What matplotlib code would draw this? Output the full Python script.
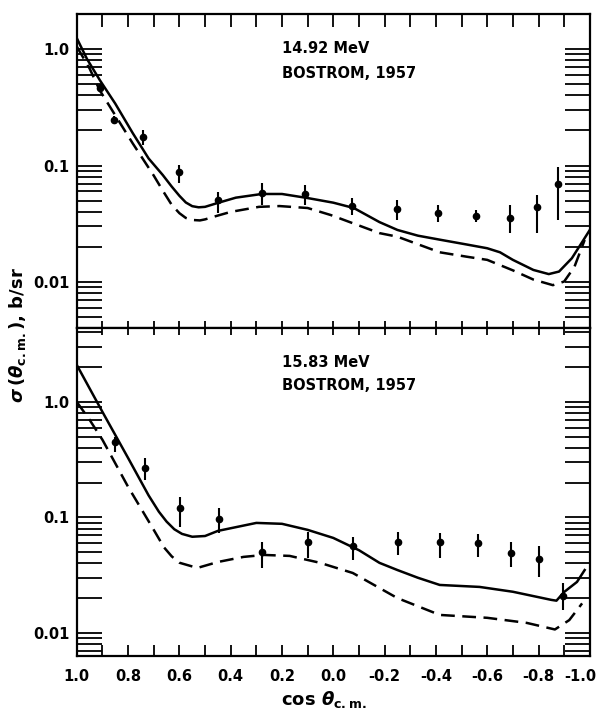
import matplotlib
matplotlib.use("Agg")
import matplotlib.pyplot as plt
import matplotlib.transforms as mtransforms
import numpy as np
from matplotlib.ticker import FixedLocator, LogLocator, NullFormatter, FuncFormatter

# ---- data ----
# 14.92 MeV panel
top_pts_x = [0.91, 0.855, 0.743, 0.60, 0.45, 0.279, 0.111, -0.072, -0.248, -0.407, -0.556, -0.688, -0.793, -0.875]
top_pts_y = [0.463, 0.246, 0.176, 0.088, 0.0506, 0.058, 0.0569, 0.0449, 0.0423, 0.0391, 0.0369, 0.0354, 0.0440, 0.0694]
top_pts_lo = [0.428, 0.227, 0.150, 0.071, 0.0391, 0.0458, 0.0458, 0.0376, 0.0340, 0.0327, 0.0327, 0.0263, 0.0263, 0.0340]
top_pts_hi = [0.501, 0.266, 0.202, 0.101, 0.0592, 0.0708, 0.068, 0.0526, 0.0506, 0.0458, 0.0415, 0.0458, 0.0558, 0.0971]

top_solid_x = [1.0, 0.96, 0.91, 0.85, 0.782, 0.72, 0.665, 0.63, 0.60, 0.575, 0.55, 0.525, 0.50, 0.454, 0.38, 0.279,
               0.20, 0.10, 0.0, -0.08, -0.18, -0.25, -0.33, -0.42, -0.52, -0.60, -0.65, -0.70, -0.78, -0.84,
               -0.88, -0.93, -0.97, -1.0]
top_solid_y = [1.24, 0.82, 0.54, 0.34, 0.19, 0.115, 0.083, 0.066, 0.055, 0.0482, 0.0448, 0.0438, 0.0442, 0.0475, 0.053,
               0.057, 0.057, 0.0526, 0.048, 0.0432, 0.0327, 0.028, 0.025, 0.023, 0.021, 0.0195, 0.018, 0.0155, 0.0127,
               0.0117, 0.0123, 0.016, 0.022, 0.028]
top_dash_x = [1.0, 0.95, 0.91, 0.85, 0.782, 0.70, 0.665, 0.63, 0.60, 0.575, 0.55, 0.52, 0.50, 0.454, 0.40, 0.29,
              0.21, 0.10, 0.01, -0.18, -0.25, -0.415, -0.52, -0.60, -0.70, -0.78, -0.856, -0.90, -0.94, -0.98]
top_dash_y = [1.05, 0.68, 0.44, 0.27, 0.155, 0.082, 0.061, 0.046, 0.039, 0.0355, 0.0341, 0.0338, 0.0345, 0.037, 0.040,
              0.0442, 0.0449, 0.0432, 0.0376, 0.0263, 0.0245, 0.018, 0.0165, 0.0155, 0.0126, 0.0105, 0.0094, 0.0101,
              0.0135, 0.023]

# 15.83 MeV panel
bot_pts_x = [0.852, 0.735, 0.598, 0.446, 0.279, 0.10, -0.076, -0.251, -0.415, -0.563, -0.692, -0.80, -0.895]
bot_pts_y = [0.45, 0.268, 0.121, 0.097, 0.050, 0.061, 0.056, 0.061, 0.061, 0.060, 0.049, 0.044, 0.021]
bot_pts_lo = [0.369, 0.211, 0.0827, 0.0734, 0.0365, 0.0446, 0.0429, 0.0473, 0.0446, 0.0455, 0.0373, 0.0305, 0.0158]
bot_pts_hi = [0.498, 0.327, 0.150, 0.121, 0.0614, 0.0749, 0.0678, 0.0749, 0.0735, 0.0720, 0.0614, 0.0567, 0.0271]

bot_solid_x = [1.0, 0.9, 0.8, 0.72, 0.68, 0.65, 0.62, 0.59, 0.55, 0.50, 0.45, 0.3, 0.2, 0.1, 0.0, -0.1, -0.18,
               -0.25, -0.33, -0.415, -0.57, -0.70, -0.85, -0.87, -0.90, -0.95, -0.98]
bot_solid_y = [2.09, 0.82, 0.327, 0.155, 0.112, 0.092, 0.079, 0.072, 0.068, 0.069, 0.0764, 0.0896, 0.088, 0.078, 0.0664,
               0.052, 0.0404, 0.035, 0.030, 0.026, 0.025, 0.0227, 0.0193, 0.019, 0.0226, 0.0276, 0.035]
bot_dash_x = [1.0, 0.95, 0.9, 0.8, 0.74, 0.7, 0.66, 0.63, 0.6, 0.53, 0.45, 0.35, 0.27, 0.17, 0.053, -0.076,
              -0.25, -0.415, -0.6, -0.754, -0.864, -0.92, -0.97]
bot_dash_y = [1.0, 0.70, 0.47, 0.184, 0.11, 0.078, 0.055, 0.046, 0.0405, 0.0365, 0.0411, 0.0455, 0.0473, 0.0464,
              0.0405, 0.033, 0.020, 0.0143, 0.0135, 0.0122, 0.0107, 0.0129, 0.018]

x_ticks = [round(1.0 - 0.1 * i, 1) for i in range(21)]
x_ticklabels = ["1.0", "", "0.8", "", "0.6", "", "0.4", "", "0.2", "", "0.0", "",
                "-0.2", "", "-0.4", "", "-0.6", "", "-0.8", "", "-1.0"]
y_labels = {1.0: "1.0", 0.1: "0.1", 0.01: "0.01"}

plt.rcParams['font.family'] = ['DejaVu Sans']
plt.rcParams['font.weight'] = 'bold'
plt.rcParams['mathtext.fontset'] = 'custom'
plt.rcParams['mathtext.it'] = 'DejaVu Sans:italic:bold'
plt.rcParams['mathtext.rm'] = 'DejaVu Sans:bold'
plt.rcParams['mathtext.bf'] = 'DejaVu Sans:bold'


def setup(ax, ylim, bottom_labels):
    ax.set_yscale('log')
    ax.set_xlim(1.0, -1.0)
    ax.set_ylim(*ylim)
    for s in ax.spines.values():
        s.set_linewidth(1.6)
    ax.yaxis.set_major_locator(LogLocator(base=10))
    ax.yaxis.set_minor_locator(LogLocator(base=10, subs=np.arange(2, 10)))
    ax.yaxis.set_minor_formatter(NullFormatter())
    ax.yaxis.set_major_formatter(FuncFormatter(lambda v, p: y_labels.get(round(v, 3), "")))
    ax.tick_params(axis='y', which='both', direction='in', length=18, width=1.3,
                   left=True, right=True, labelsize=10.5, pad=5)
    ax.xaxis.set_major_locator(FixedLocator(x_ticks))
    ax.tick_params(axis='x', which='major', direction='in', length=5, width=1.3,
                   top=True, bottom=True, labelsize=10.5, pad=9)
    if bottom_labels:
        ax.set_xticklabels(x_ticklabels)
    else:
        ax.set_xticklabels([])
    for lab in ax.get_yticklabels() + ax.get_xticklabels():
        lab.set_fontweight('bold')


def draw(ax, sx, sy, dx, dy, px, py, plo, phi):
    ax.plot(sx, sy, color='k', lw=1.8)
    ax.plot(dx, dy, color='k', lw=1.8, linestyle=(0, (5.5, 3)))
    py = np.array(py)
    yerr = [py - np.array(plo), np.array(phi) - py]
    ax.errorbar(px, py, yerr=yerr, fmt='o', color='k', ms=4.5, elinewidth=1.5, capsize=0)


fig = plt.figure(figsize=(6, 7.14), dpi=100)
ax1 = fig.add_axes([0.128, 0.5406, 0.855, 0.4398])
ax2 = fig.add_axes([0.128, 0.0812, 0.855, 0.4594])

setup(ax1, (0.00403, 2.0), False)
setup(ax2, (0.0063, 4.37), True)

draw(ax1, top_solid_x, top_solid_y, top_dash_x, top_dash_y, top_pts_x, top_pts_y, top_pts_lo, top_pts_hi)
draw(ax2, bot_solid_x, bot_solid_y, bot_dash_x, bot_dash_y, bot_pts_x, bot_pts_y, bot_pts_lo, bot_pts_hi)

# longer ticks on the outer top and bottom edges
for t in ax1.xaxis.get_major_ticks():
    t.tick2line.set_markersize(9)
for t in ax2.xaxis.get_major_ticks():
    t.tick1line.set_markersize(8)

# keep the last x label inside the figure
last = ax2.xaxis.get_major_ticks()[-1].label1
last.set_transform(last.get_transform() + mtransforms.ScaledTranslation(-7 / 72, 0, fig.dpi_scale_trans))

ax1.text(0.40, 0.889, "14.92 MeV", transform=ax1.transAxes, fontsize=10.5, fontweight='bold', va='center')
ax1.text(0.40, 0.812, "BOSTROM, 1957", transform=ax1.transAxes, fontsize=10.5, fontweight='bold', va='center')
ax2.text(0.40, 0.896, "15.83 MeV", transform=ax2.transAxes, fontsize=10.5, fontweight='bold', va='center')
ax2.text(0.40, 0.826, "BOSTROM, 1957", transform=ax2.transAxes, fontsize=10.5, fontweight='bold', va='center')

fig.text(0.03, 0.531, r"$\sigma\,(\theta_{\mathrm{c.m.}})$, b/sr", rotation=90,
         fontsize=13, fontweight='bold', ha='center', va='center')
fig.text(0.54, 0.021, r"cos $\theta_{\mathrm{c.m.}}$", fontsize=13, fontweight='bold',
         ha='center', va='center')

fig.savefig("out.png", dpi=100)
